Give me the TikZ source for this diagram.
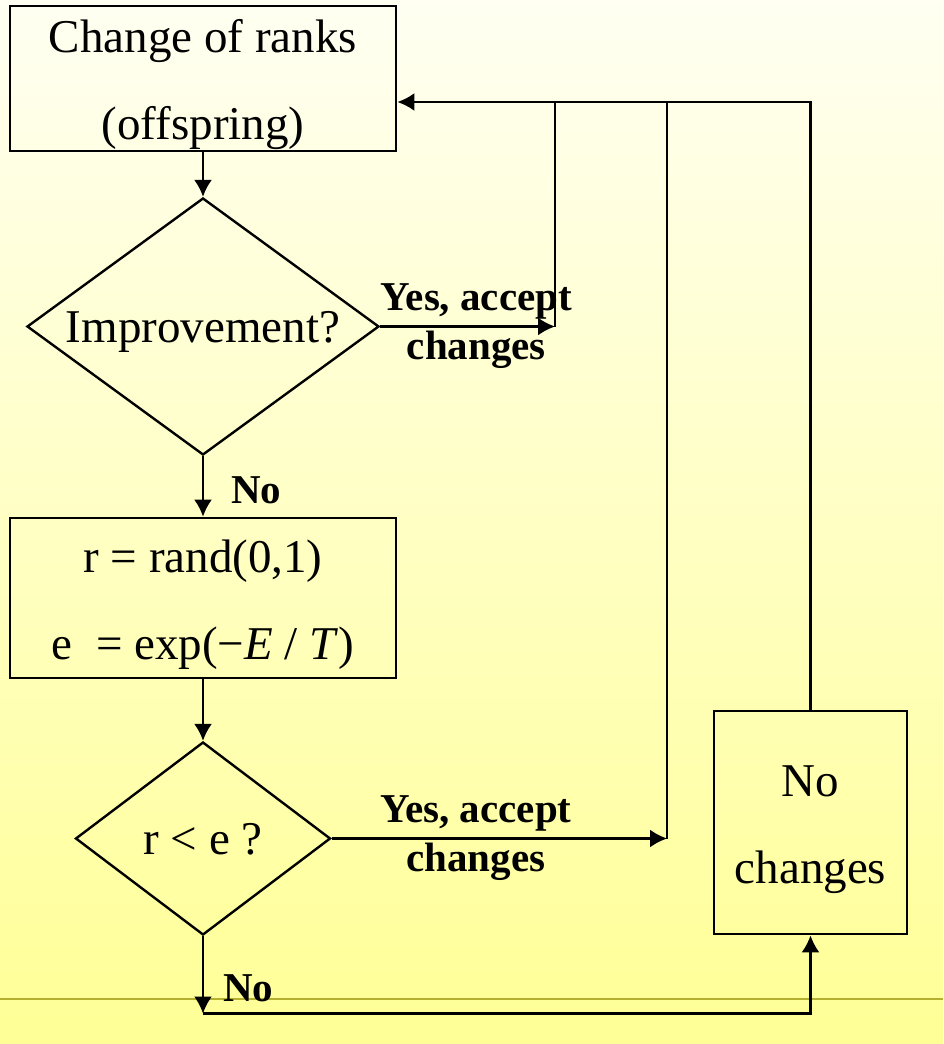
\documentclass[tikz,border=0pt]{standalone}
\usepackage{fontspec}
\setmainfont{Liberation Serif}
\usetikzlibrary{shapes.geometric, arrows.meta}

\definecolor{nentren}{RGB}{255,255,242}
\definecolor{nenduoi}{RGB}{255,255,150}
\definecolor{vachke}{RGB}{182,176,48}
\newcommand{\dongcao}{\rule{0pt}{46pt}}

\begin{document}
\begin{tikzpicture}[x=1pt, y=-1pt, >={Latex[length=17pt,width=18pt]},
    hop/.style={draw, line width=2.8pt, align=center, inner sep=0pt,
        font=\fontsize{47}{87}\selectfont},
    thoi/.style={draw, diamond, aspect=1.37, line width=2.4pt, inner sep=0pt,
        text depth=0pt, font=\fontsize{47}{56}\selectfont},
    noi/.style={line width=2.2pt},
    nhan/.style={align=center, inner sep=0pt, font=\bfseries\fontsize{41}{49}\selectfont}]

    % 1. Nền chuyển màu và vạch kẻ ngang
    \useasboundingbox (0,0) rectangle (943,1044);
    \shade[top color=nentren, bottom color=nenduoi] (0,0) rectangle (943,1044);
    \draw[vachke, line width=2pt] (0,998.5) -- (943,998.5);

    % 2. Các khối của lưu đồ
    \node[hop, minimum width=386pt, minimum height=145pt] (doi) at (203,78.5)
        {\dongcao Change of ranks\\(offspring)};
    \node[thoi, minimum width=352pt, minimum height=257pt] (caithien) at (203,326.5)
        {Improvement?};
    \node[hop, minimum width=386pt, minimum height=160pt] (tinh) at (203,598)
        {\dongcao r = rand(0,1)\\e\ \ = exp(−\textit{E} / \textit{T})};
    \node[thoi, minimum width=255pt, minimum height=193pt] (sosanh) at (203,838.5)
        {r < e ?};
    \node[hop, minimum width=193pt, minimum height=223pt] (giunguyen) at (810.5,822.5)
        {\dongcao No\\changes};

    % 3. Các điểm gấp khúc
    \coordinate (cham1) at (555,326.5);
    \coordinate (cham2) at (667,838.5);
    \coordinate (tren1) at (555,102);
    \coordinate (tren2) at (667,102);
    \coordinate (tren3) at (810.5,102);
    \coordinate (day) at (203,1013.5);

    % 4. Mũi tên nối
    \draw[noi, ->] (doi.south) -- (caithien.north);
    \draw[noi, ->] (caithien.east) -- node[nhan, pos=0.55] {Yes, accept\\changes} (cham1);
    \draw[noi] (cham1) -- (tren1);
    \draw[noi, ->] (caithien.south) -- node[nhan, right=27pt, pos=0.57] {No} (tinh.north);
    \draw[noi, ->] (tinh.south) -- (sosanh.north);
    \draw[noi, ->] (sosanh.east) -- node[nhan, pos=0.43] {Yes, accept\\changes} (cham2);
    \draw[noi] (cham2) -- (tren2);
    \draw[noi, ->] (sosanh.south) -- node[nhan, right=19pt, pos=0.675] {No} (day);
    \draw[noi, ->] (day) -| (giunguyen.south);
    \draw[noi, ->] (giunguyen.north) -- (tren3) -- (doi.east |- tren3);

\end{tikzpicture}
\end{document}
